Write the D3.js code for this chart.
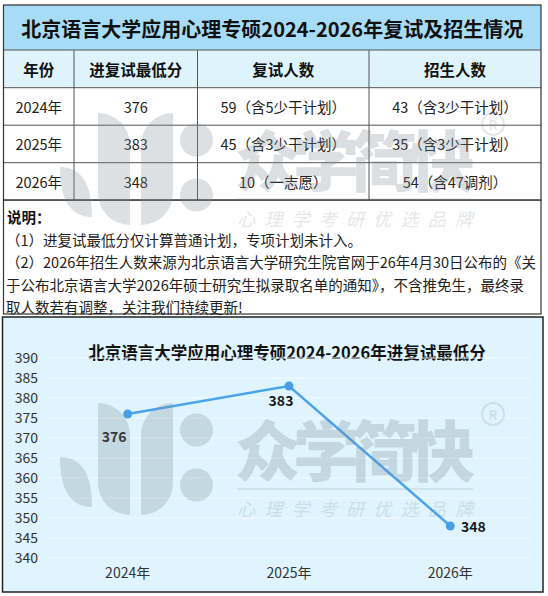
<!DOCTYPE html>
<html>
<head>
<meta charset="utf-8">
<script src="https://cdn.jsdelivr.net/npm/d3@7"></script>
<style>
  body { margin: 0; background: #fff; }
  svg { display: block; font-family: "Noto Sans CJK SC", "Noto Sans", sans-serif; }
</style>
</head>
<body>
<div id="main"></div>
<script>
// data
const years = ["2024年", "2025年", "2026年"];
const minScores = [376, 383, 348];
const retestCounts = ["59（含5少干计划）", "45（含3少干计划）", "10（一志愿）"];
const admitCounts = ["43（含3少干计划）", "35（含3少干计划）", "54（含47调剂）"];
const headers = ["年份", "进复试最低分", "复试人数", "招生人数"];
const tableTitle = "北京语言大学应用心理专硕2024-2026年复试及招生情况";
const chartTitle = "北京语言大学应用心理专硕2024-2026年进复试最低分";
const noteTitle = "说明：";
const notes = [
    "（1）进复试最低分仅计算普通计划，专项计划未计入。",
    "（2）2026年招生人数来源为北京语言大学研究生院官网于26年4月30日公布的《关",
    "于公布北京语言大学2026年硕士研究生拟录取名单的通知》，不含推免生，最终录",
    "取人数若有调整，关注我们持续更新!"
];
const yDomain = [340, 390];

const W = 548, H = 596;
const svg = d3.select("#main").append("svg")
    .attr("width", W)
    .attr("height", H);

svg.append("rect").attr("width", W).attr("height", H).attr("fill", "#fff");

// ---------- table ----------
const tbl = { left: 3.5, right: 541, top: 5, titleBottom: 50, headBottom: 87.7, rowH: 37.5 };
const colX = [3.5, 74, 197.5, 369, 541];
const rows = years.map((y, i) => [y, String(minScores[i]), retestCounts[i], admitCounts[i]]);
const tableBottom = tbl.headBottom + rows.length * tbl.rowH;

const t = svg.append("g");
t.append("rect")
    .attr("x", tbl.left).attr("y", tbl.top)
    .attr("width", tbl.right - tbl.left).attr("height", tbl.titleBottom - tbl.top)
    .attr("fill", "#a7dcf6");
t.append("rect")
    .attr("x", tbl.left).attr("y", tbl.titleBottom)
    .attr("width", tbl.right - tbl.left).attr("height", tbl.headBottom - tbl.titleBottom)
    .attr("fill", "#def3fc");

t.append("text")
    .attr("x", (tbl.left + tbl.right) / 2)
    .attr("y", (tbl.top + tbl.titleBottom) / 2 + 1)
    .attr("text-anchor", "middle")
    .attr("dominant-baseline", "central")
    .style("font-size", "20px")
    .style("font-weight", "bold")
    .attr("fill", "#111")
    .text(tableTitle);

headers.forEach((h, j) => {
    t.append("text")
        .attr("x", (colX[j] + colX[j + 1]) / 2)
        .attr("y", (tbl.titleBottom + tbl.headBottom) / 2)
        .attr("text-anchor", "middle")
        .attr("dominant-baseline", "central")
        .style("font-size", "15.5px")
        .style("font-weight", "bold")
        .attr("fill", "#111")
        .text(h);
});

rows.forEach((r, i) => {
    const cy = tbl.headBottom + tbl.rowH * (i + 0.5);
    r.forEach((cell, j) => {
        t.append("text")
            .attr("x", (colX[j] + colX[j + 1]) / 2)
            .attr("y", cy)
            .attr("text-anchor", "middle")
            .attr("dominant-baseline", "central")
            .style("font-size", "14.5px")
            .attr("fill", "#222")
            .text(cell);
    });
});

// grid lines of the table
const hLines = [tbl.titleBottom, tbl.headBottom].concat(rows.map((r, i) => tbl.headBottom + tbl.rowH * (i + 1)));
t.selectAll(".hline").data(hLines).enter().append("line")
    .attr("x1", tbl.left).attr("x2", tbl.right)
    .attr("y1", d => d).attr("y2", d => d)
    .attr("stroke", "#555").attr("stroke-width", 1);
t.selectAll(".vline").data(colX.slice(1, -1)).enter().append("line")
    .attr("x1", d => d).attr("x2", d => d)
    .attr("y1", tbl.titleBottom).attr("y2", tableBottom)
    .attr("stroke", "#555").attr("stroke-width", 1);
t.append("rect")
    .attr("x", tbl.left).attr("y", tbl.top)
    .attr("width", tbl.right - tbl.left).attr("height", tableBottom - tbl.top)
    .attr("fill", "none").attr("stroke", "#333").attr("stroke-width", 1.2);

// ---------- notes ----------
const noteBottom = 314;
const n = svg.append("g");
n.append("rect")
    .attr("x", tbl.left).attr("y", tableBottom)
    .attr("width", tbl.right - tbl.left).attr("height", noteBottom - tableBottom)
    .attr("fill", "#fff").attr("stroke", "#333").attr("stroke-width", 1.2);
n.append("text")
    .attr("x", 7).attr("y", 216.5)
    .attr("dominant-baseline", "central")
    .style("font-size", "14.5px").style("font-weight", "bold")
    .attr("fill", "#111")
    .text(noteTitle);
n.selectAll(".note").data(notes).enter().append("text")
    .attr("x", 6)
    .attr("y", (d, i) => 239.5 + i * 22.4)
    .attr("dominant-baseline", "central")
    .style("font-size", "14.5px")
    .attr("fill", "#222")
    .text(d => d);

// ---------- line chart ----------
const box = { left: 2.5, right: 543, top: 317, bottom: 592 };
const c = svg.append("g");
c.append("rect")
    .attr("x", box.left).attr("y", box.top)
    .attr("width", box.right - box.left).attr("height", box.bottom - box.top)
    .attr("fill", "#dff4fe").attr("stroke", "#222").attr("stroke-width", 1.5);

const x = d3.scaleBand().domain(years).range([47, 531]);
const y = d3.scaleLinear().domain(yDomain).range([558, 358]);

c.append("text")
    .attr("x", 287).attr("y", 352)
    .attr("text-anchor", "middle")
    .attr("dominant-baseline", "central")
    .style("font-size", "16.5px").style("font-weight", "bold")
    .attr("fill", "#111")
    .text(chartTitle);

const ticks = y.ticks(10);
c.selectAll(".grid").data(ticks).enter().append("line")
    .attr("x1", 47).attr("x2", 531)
    .attr("y1", d => y(d)).attr("y2", d => y(d))
    .attr("stroke", "#f3fbff").attr("stroke-width", 1);

const yAxis = c.append("g")
    .attr("transform", "translate(38,0)")
    .call(d3.axisLeft(y).tickValues(ticks).tickSize(0).tickPadding(0));
yAxis.select(".domain").remove();
yAxis.selectAll("text")
    .style("font-size", "14px")
    .style("font-family", "'Noto Sans CJK SC', sans-serif")
    .attr("fill", "#333");

const xAxis = c.append("g")
    .attr("transform", "translate(0,568)")
    .call(d3.axisBottom(x).tickSize(0).tickPadding(0));
xAxis.select(".domain").remove();
xAxis.selectAll("text")
    .style("font-size", "14px")
    .style("font-family", "'Noto Sans CJK SC', sans-serif")
    .attr("fill", "#333");

const pts = years.map((yr, i) => ({ year: yr, value: minScores[i] }));
const cx = d => x(d.year) + x.bandwidth() / 2;

c.append("path")
    .datum(pts)
    .attr("fill", "none")
    .attr("stroke", "#4aa3ef")
    .attr("stroke-width", 2.5)
    .attr("d", d3.line().x(cx).y(d => y(d.value)));

c.selectAll(".dot").data(pts).enter().append("circle")
    .attr("cx", cx).attr("cy", d => y(d.value))
    .attr("r", 4.5)
    .attr("fill", "#4a9ee8");

// label placement per point: below-left, below, right
const labelOffset = [[-13.5, 21.5], [-8, 14], [23, 0]];
c.selectAll(".lbl").data(pts).enter().append("text")
    .attr("x", (d, i) => cx(d) + labelOffset[i][0])
    .attr("y", (d, i) => y(d.value) + labelOffset[i][1])
    .attr("text-anchor", "middle")
    .attr("dominant-baseline", "central")
    .style("font-size", "14px").style("font-weight", "bold")
    .attr("fill", "#1a1a1a")
    .text(d => d.value);

// ---------- watermark (two tiles) ----------
function watermark(dy) {
    const g = svg.append("g")
        .attr("transform", `translate(0,${dy})`)
        .attr("fill", "#7d8b92")
        .style("pointer-events", "none");
    g.append("path").attr("opacity", 0.27)
        .attr("d", "M60,457 Q92,457 92,507 Q60,507 60,457 Z");
    g.append("path").attr("opacity", 0.27)
        .attr("d", "M98,403 A32,32 0 0 1 130,435 L130,515 A32,32 0 0 1 98,483 Z");
    g.append("path").attr("opacity", 0.27)
        .attr("d", "M173,403 A32,32 0 0 0 141,435 L141,515 A32,32 0 0 0 173,483 Z");
    g.selectAll(".dotw").data([430, 485]).enter().append("circle")
        .attr("opacity", 0.27)
        .attr("cx", 196.5).attr("cy", d => d).attr("r", 16.5);
    g.append("text").attr("opacity", 0.27)
        .attr("x", 235).attr("y", 447)
        .attr("dominant-baseline", "central")
        .attr("textLength", 240)
        .style("font-size", "66px").style("font-weight", "900")
        .text("众学简快");
    g.append("line").attr("opacity", 0.2)
        .attr("x1", 237).attr("x2", 473).attr("y1", 489).attr("y2", 489)
        .attr("stroke", "#7d8b92").attr("stroke-width", 1.5);
    g.append("text").attr("opacity", 0.2)
        .attr("x", 237).attr("y", 508)
        .attr("dominant-baseline", "central")
        .attr("textLength", 236)
        .style("font-size", "18px").style("font-style", "italic")
        .text("心理学考研优选品牌");
    g.append("circle").attr("opacity", 0.2)
        .attr("cx", 493).attr("cy", 414).attr("r", 11)
        .attr("fill", "none").attr("stroke", "#7d8b92").attr("stroke-width", 2);
    g.append("text").attr("opacity", 0.2)
        .attr("x", 493).attr("y", 414)
        .attr("text-anchor", "middle")
        .attr("dominant-baseline", "central")
        .style("font-size", "13px").style("font-weight", "bold")
        .text("R");
}
watermark(0);
watermark(-290);
</script>
</body>
</html>
